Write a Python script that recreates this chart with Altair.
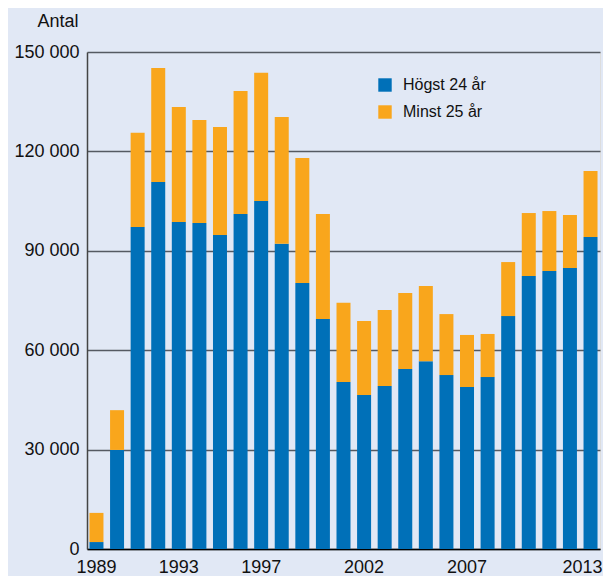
import altair as alt
import pandas as pd

years = list(range(1989, 2014))
hogst_24 = [2100, 29900, 97200, 110800, 98700, 98400, 94800, 101100, 105000, 92100,
            80300, 69400, 50400, 46500, 49200, 54300, 56700, 52500, 48900, 51900,
            70300, 82400, 83900, 84800, 94200]
totals = [10900, 41900, 125600, 145200, 133400, 129500, 127400, 138200, 143700, 130400,
          118000, 101100, 74300, 68800, 72100, 77300, 79400, 70900, 64600, 64900,
          86600, 101400, 102000, 100800, 114100]
minst_25 = [t - h for t, h in zip(totals, hogst_24)]
series = ["Högst 24 år", "Minst 25 år"]
colors = ["#0070b8", "#f9a61c"]
shown_years = ["1989", "1993", "1997", "2002", "2007", "2013"]

rows = []
for y, h, m in zip(years, hogst_24, minst_25):
    rows.append({"year": str(y), "group": series[0], "value": h, "ord": 0})
    rows.append({"year": str(y), "group": series[1], "value": m, "ord": 1})
df = pd.DataFrame(rows)

bg = "#e1e8f5"
font = "Liberation Sans"

label_expr = "indexof(" + str(shown_years) + ", datum.label) >= 0 ? datum.label : ''"

chart = alt.Chart(df).mark_bar().encode(
    x=alt.X("year:O", title=None,
            scale=alt.Scale(paddingInner=0.32, paddingOuter=0.12),
            axis=alt.Axis(labelAngle=0, ticks=False, domain=True, domainColor="#000000",
                          domainWidth=1.5, labelFontSize=18, labelPadding=9,
                          labelColor="#111111", labelOverlap=False,
                          labelOffset={"condition": {"test": "datum.value == '2013'", "value": -8},
                                       "value": 0},
                          labelExpr=label_expr)),
    y=alt.Y("value:Q", stack="zero",
            scale=alt.Scale(domain=[0, 150000], nice=False),
            axis=alt.Axis(values=[0, 30000, 60000, 90000, 120000, 150000],
                          labelExpr="replace(format(datum.value, ','), ',', ' ')",
                          ticks=False, domain=True, domainColor="#444444", domainWidth=1.5,
                          grid=True, gridColor="#555a62", gridWidth=1.5,
                          labelFontSize=18, labelPadding=8, labelColor="#111111",
                          title="Antal", titleAngle=0, titleX=-9, titleY=-26,
                          titleAlign="right", titleBaseline="alphabetic",
                          titleFontSize=18, titleFontWeight="normal", titleColor="#111111")),
    color=alt.Color("group:N", scale=alt.Scale(domain=series, range=colors),
                    legend=alt.Legend(title=None, orient="none", legendX=290, legendY=25,
                                      symbolType="square", symbolSize=180,
                                      symbolStrokeWidth=0, labelFontSize=16,
                                      labelColor="#111111", rowPadding=11,
                                      labelOffset=10)),
    order=alt.Order("ord:Q", sort="ascending"),
).properties(
    width=513, height=497,
    background=bg,
    padding={"left": 79, "top": 44, "right": 3, "bottom": 30},
    autosize=alt.AutoSizeParams(type="none"),
).configure_view(
    stroke="#555a62", strokeWidth=1.5, fill=bg
).configure(
    font=font
)

chart.save("out.html", embed_options={"renderer": "svg", "actions": False})
